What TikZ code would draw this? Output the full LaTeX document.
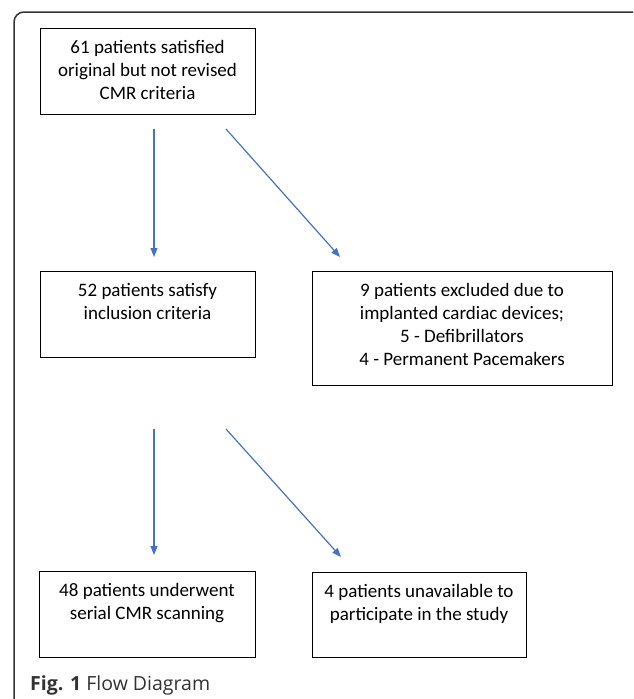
\documentclass[tikz,border=0pt]{standalone}
\usepackage{fontspec}
\setmainfont{Carlito}
\newfontfamily\capfont{Open Sans}
\usepackage{xcolor}
\usetikzlibrary{arrows.meta}
\definecolor{flowblue}{HTML}{4472C4}
\definecolor{framegray}{HTML}{333333}
\tikzstyle{flowbox} = [draw=black, line width=1pt, rectangle, anchor=north,
align=center, font=\fontsize{19}{23}\selectfont,
inner xsep=4pt, inner ysep=11pt]
\tikzstyle{flowarrow} = [draw=flowblue, line width=1.2pt,
-{Triangle[length=9pt,width=7pt]}]

\begin{document}
\begin{tikzpicture}[x=1pt, y=-1pt]
        \path[use as bounding box, clip] (0,0) rectangle (633,699);
        \draw[framegray, line width=1.5pt, rounded corners=10pt] (14,12) rectangle (650,730);
        \node[flowbox, minimum width=215pt, text height=60pt, text depth=4pt] (first) at (147.5,28)
            {61 patients satisfied\\original but not revised\\CMR criteria};
        \node[flowbox, minimum width=215pt, text height=37pt, text depth=27pt] (incl) at (147.5,271)
            {52 patients satisfy\\inclusion criteria};
        \node[flowbox, minimum width=300pt, text height=83pt, text depth=9pt] (excl) at (462,271)
            {9 patients excluded due to\\implanted cardiac devices;\\5 - Defibrillators\\4 - Permanent Pacemakers};
        \node[flowbox, minimum width=216pt, text height=37pt, text depth=27pt] (scan) at (147,571)
            {48 patients underwent\\serial CMR scanning};
        \node[flowbox, minimum width=214pt, text height=37pt, text depth=26pt] (unavail) at (419,572)
            {4 patients unavailable to\\participate in the study};
        \draw[flowarrow] ([xshift=6.5pt,yshift=-14pt]first.south) -- ([xshift=6.5pt,yshift=14pt]incl.north);
        \draw[flowarrow] ([xshift=78.5pt,yshift=-14pt]first.south) -- ([xshift=-122pt,yshift=14pt]excl.north);
        \draw[flowarrow] ([xshift=6.5pt,yshift=-71pt]incl.south) -- ([xshift=7pt,yshift=16pt]scan.north);
        \draw[flowarrow] ([xshift=78.5pt,yshift=-71pt]incl.south) -- ([xshift=-78pt,yshift=15pt]unavail.north);
        \node[anchor=base west, inner sep=0pt, text=framegray, font=\capfont\fontsize{19.5}{23}\selectfont] (caption) at (30,690)
            {\textbf{Fig. 1} Flow Diagram};
    \end{tikzpicture}
\end{document}
